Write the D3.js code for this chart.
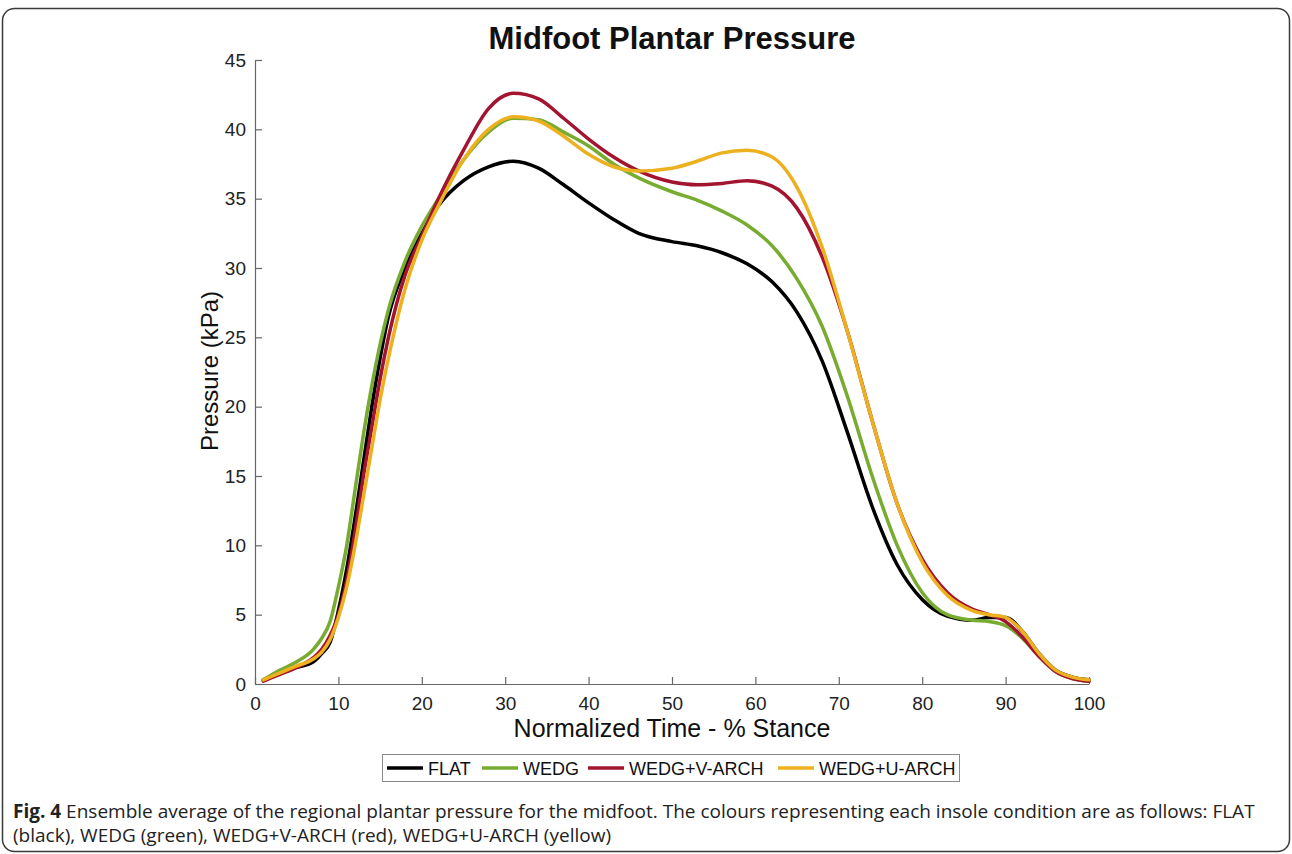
<!DOCTYPE html>
<html>
<head>
<meta charset="utf-8">
<script src="https://cdn.jsdelivr.net/npm/d3@7"></script>
<style>
  body { margin: 0; background: #fff; }
  svg { display: block; }
</style>
</head>
<body>
<div id="chart"></div>
<script>
// Sample points (% stance) and pressure values (kPa)
var stance = [1, 3, 5, 7, 8, 9, 10, 11, 12, 13, 14, 15, 16, 18, 20, 22, 25, 28, 31, 34, 37, 40, 43, 46, 50, 53, 56, 59, 62, 65, 68, 71, 74, 77, 80, 83, 86, 88, 90, 92, 94, 96, 98, 100];

var flat = [0.3, 0.8, 1.2, 1.6, 2.2, 3.0, 5.3, 8.3, 12, 16, 20, 23.5, 26.5, 30, 32.5, 34.5, 36.3, 37.3, 37.7, 37.2, 36, 34.7, 33.5, 32.5, 31.9, 31.6, 31.1, 30.3, 29.0, 26.8, 23.3, 18.2, 12.8, 8.6, 6.1, 4.9, 4.6, 4.8, 4.8, 3.8, 2.2, 1.0, 0.5, 0.3];
var wedg = [0.3, 1.0, 1.6, 2.5, 3.3, 4.5, 7, 10, 14, 18, 21.5, 24.5, 27, 30.5, 33, 35, 37.8, 39.8, 40.8, 40.7, 39.8, 38.8, 37.5, 36.5, 35.5, 34.9, 34.1, 33.1, 31.6, 29.2, 25.8, 20.8, 15, 10, 6.6, 5, 4.6, 4.5, 4.2, 3.3, 2.0, 0.9, 0.4, 0.2];
var wedgV = [0.2, 0.7, 1.2, 1.9, 2.5, 3.5, 5, 7.5, 11, 15, 18.5, 22, 25, 29.5, 32.3, 35, 38.5, 41.5, 42.6, 42.2, 40.8, 39.3, 38, 37, 36.2, 36, 36.1, 36.3, 35.9, 34.3, 30.8, 25.5, 19, 13, 9, 6.6, 5.4, 5.0, 4.5, 3.4, 2.0, 0.9, 0.4, 0.2];
var wedgU = [0.3, 0.8, 1.3, 1.8, 2.3, 3.2, 4.8, 7, 10, 13.5, 17, 20.5, 23.5, 28.5, 32, 34.5, 37.8, 40, 40.9, 40.6, 39.5, 38.2, 37.3, 37, 37.2, 37.7, 38.3, 38.5, 38, 35.8, 31.5, 25.5, 19, 13, 8.8, 6.4, 5.3, 5.0, 4.8, 3.8, 2.2, 1.0, 0.5, 0.3];

var seriesNames = ["FLAT", "WEDG", "WEDG+V-ARCH", "WEDG+U-ARCH"];
var seriesColors = ["#000000", "#77ac30", "#a2142f", "#edb120"];
var xTicks = [0, 10, 20, 30, 40, 50, 60, 70, 80, 90, 100];
var yTicks = [0, 5, 10, 15, 20, 25, 30, 35, 40, 45];

var captionLine1 = "Ensemble average of the regional plantar pressure for the midfoot. The colours representing each insole condition are as follows: FLAT";
var captionLine2 = "(black), WEDG (green), WEDG+V-ARCH (red), WEDG+U-ARCH (yellow)";

function makeChart() {

  var svgWidth = 1292;
  var svgHeight = 854;

  // plot area in page pixels
  var margin = { top: 60, left: 255, right: 203, bottom: 170 };
  var width = svgWidth - margin.left - margin.right;   // 834
  var height = svgHeight - margin.top - margin.bottom; // 624

  var svg = d3.select("#chart")
    .append("svg")
    .attr("width", svgWidth)
    .attr("height", svgHeight);

  // rounded frame around the figure
  svg.append("rect")
    .attr("x", 2.5)
    .attr("y", 8.5)
    .attr("width", 1287)
    .attr("height", 843)
    .attr("rx", 12)
    .attr("fill", "none")
    .attr("stroke", "#3a3a3a")
    .attr("stroke-width", 1.5);

  // title
  svg.append("text")
    .attr("x", 672)
    .attr("y", 49)
    .attr("text-anchor", "middle")
    .attr("font-family", "Liberation Sans, Arial, sans-serif")
    .attr("font-weight", "bold")
    .attr("font-size", "31px")
    .attr("fill", "#111")
    .text("Midfoot Plantar Pressure");

  var chartGroup = svg.append("g")
    .attr("transform", `translate(${margin.left}, ${margin.top})`);

  // scales
  var xScale = d3.scaleLinear().domain([0, 100]).range([0, width]);
  var yScale = d3.scaleLinear().domain([0, 45]).range([height, 0]);

  // axes, ticks pointing inward like MATLAB
  var bottomAxis = d3.axisBottom(xScale).tickValues(xTicks).tickSizeInner(-7).tickSizeOuter(0).tickPadding(13);
  var leftAxis = d3.axisLeft(yScale).tickValues(yTicks).tickSizeInner(-7).tickSizeOuter(0).tickPadding(9);

  var xAxisG = chartGroup.append("g")
    .attr("transform", `translate(0, ${height})`)
    .call(bottomAxis);

  var yAxisG = chartGroup.append("g")
    .call(leftAxis);

  [xAxisG, yAxisG].forEach(function (g) {
    g.selectAll("path, line").attr("stroke", "#666").attr("stroke-width", 1.2);
    g.selectAll("text")
      .attr("font-family", "Liberation Sans, Arial, sans-serif")
      .attr("font-size", "19px")
      .attr("fill", "#222");
  });

  // lines
  var allSeries = [flat, wedg, wedgV, wedgU];
  var line = d3.line()
    .x(function (d, i) { return xScale(stance[i]); })
    .y(function (d) { return yScale(d); })
    .curve(d3.curveMonotoneX);

  chartGroup.selectAll(".series")
    .data(allSeries)
    .enter()
    .append("path")
    .attr("class", "series")
    .attr("d", line)
    .attr("fill", "none")
    .attr("stroke", function (d, i) { return seriesColors[i]; })
    .attr("stroke-width", 3.5)
    .attr("stroke-linejoin", "round")
    .attr("stroke-linecap", "round");

  // axis labels
  svg.append("text")
    .attr("transform", "translate(218, 371) rotate(-90)")
    .attr("text-anchor", "middle")
    .attr("font-family", "Liberation Sans, Arial, sans-serif")
    .attr("font-size", "24px")
    .attr("fill", "#111")
    .text("Pressure (kPa)");

  svg.append("text")
    .attr("x", 672)
    .attr("y", 737)
    .attr("text-anchor", "middle")
    .attr("font-family", "Liberation Sans, Arial, sans-serif")
    .attr("font-size", "25px")
    .attr("fill", "#111")
    .text("Normalized Time - % Stance");

  // legend
  var legend = svg.append("g");
  legend.append("rect")
    .attr("x", 382.5)
    .attr("y", 754.5)
    .attr("width", 577)
    .attr("height", 27)
    .attr("fill", "#fff")
    .attr("stroke", "#888")
    .attr("stroke-width", 1);

  var legendX = [387, 482, 588, 778];
  seriesNames.forEach(function (name, i) {
    legend.append("line")
      .attr("x1", legendX[i])
      .attr("x2", legendX[i] + 36)
      .attr("y1", 768)
      .attr("y2", 768)
      .attr("stroke", seriesColors[i])
      .attr("stroke-width", 3.5);
    legend.append("text")
      .attr("x", legendX[i] + 41)
      .attr("y", 774.5)
      .attr("font-family", "Liberation Sans, Arial, sans-serif")
      .attr("font-size", "18px")
      .attr("fill", "#111")
      .text(name);
  });

  // caption
  var cap = svg.append("g")
    .attr("font-family", "Open Sans, Noto Sans, sans-serif")
    .attr("font-size", "19px")
    .attr("fill", "#222");

  var c1 = cap.append("text").attr("x", 13).attr("y", 818);
  c1.append("tspan").attr("font-weight", "bold").text("Fig. 4");
  c1.append("tspan").text(" " + captionLine1);

  cap.append("text").attr("x", 13).attr("y", 842).text(captionLine2);
}

makeChart();
</script>
</body>
</html>
